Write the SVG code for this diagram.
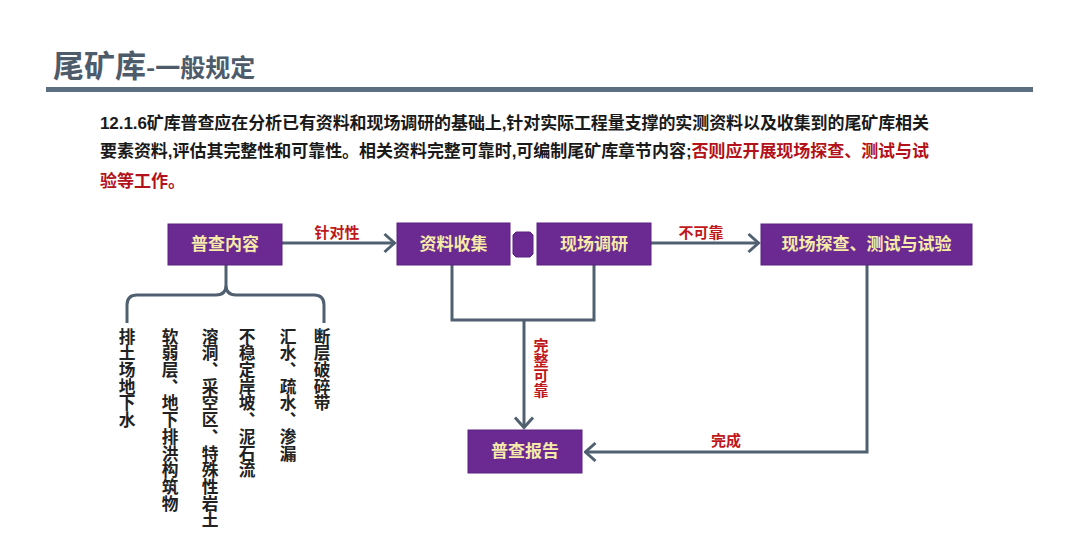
<svg xmlns="http://www.w3.org/2000/svg" width="1080" height="536" viewBox="0 0 1080 536">
<style>
.node{fill:#6a2a92;stroke:#5a2280;stroke-width:1}
.nt{font-family:"Noto Sans CJK SC","Liberation Sans",sans-serif;font-weight:bold;font-size:17px;fill:#f6eba8;text-anchor:middle}
.lbl{font-family:"Noto Sans CJK SC","Liberation Sans",sans-serif;font-weight:bold;font-size:15px;fill:#c0171b;text-anchor:middle}
.conn{fill:none;stroke:#506070;stroke-width:3}
.col{font-family:"Noto Sans CJK SC","Liberation Sans",sans-serif;font-weight:bold;font-size:16.7px;fill:#222;writing-mode:vertical-rl}
.body{font-family:"Liberation Sans","Noto Sans CJK SC",sans-serif;font-weight:bold;font-size:17px;fill:#1a1a1a}
.red{fill:#b3121a}
</style>
<defs>
<marker id="arr" markerUnits="userSpaceOnUse" viewBox="0 0 14 22" refX="12.5" refY="11" markerWidth="14" markerHeight="22" orient="auto">
<path d="M2,2 L12,11 L2,20" fill="none" stroke="#506070" stroke-width="3"/>
</marker>
</defs>
<rect width="1080" height="536" fill="#ffffff"/>
<g id="title">
<text x="53" y="77" font-family="Noto Sans CJK SC,Liberation Sans,sans-serif" font-weight="bold" fill="#4d5b6b"><tspan font-size="31px">尾矿库</tspan><tspan font-size="25px">-一般规定</tspan></text>
<rect x="46" y="87" width="987" height="5" fill="#5c6f80"/>
</g>
<g id="header">
<text class="body" x="100" y="129" textLength="829" lengthAdjust="spacing">12.1.6矿库普查应在分析已有资料和现场调研的基础上,针对实际工程量支撑的实测资料以及收集到的尾矿库相关</text>
<text class="body" x="100" y="157" textLength="829" lengthAdjust="spacing">要素资料,评估其完整性和可靠性。相关资料完整可靠时,可编制尾矿库章节内容;<tspan class="red">否则应开展现场探查、测试与试</tspan></text>
<text class="body red" x="100" y="187">验等工作。</text>
</g>
<g id="connectors">
<path class="conn" d="M282,243 H395" marker-end="url(#arr)"/>
<path class="conn" d="M651,243 H759" marker-end="url(#arr)"/>
<path class="conn" d="M452,265 V320 H594 V265"/>
<path class="conn" d="M524,320 V428" marker-end="url(#arr)"/>
<path class="conn" d="M867,265 V452 H585" marker-end="url(#arr)"/>
<path class="conn" d="M127,323 V305 Q127,295 137,295 H216 Q226,295 226,285 V265 M226,285 Q226,295 236,295 H314 Q324,295 324,305 V323"/>
<text class="lbl" x="337" y="238">针对性</text>
<text class="lbl" x="701" y="238">不可靠</text>
<text class="lbl" x="726" y="446">完成</text>
<text class="lbl" font-size="16px" x="541" y="338" style="writing-mode:vertical-rl;text-anchor:start">完整可靠</text>
</g>
<g id="n-content">
<rect class="node" x="168" y="224" width="114" height="41"/>
<text class="nt" x="225" y="250">普查内容</text>
</g>
<g id="n-collect">
<rect class="node" x="397" y="223" width="113" height="42"/>
<text class="nt" x="453.5" y="250">资料收集</text>
</g>
<g id="n-join">
<polygon class="node" points="516,232 530,232 533,235 533,254 530,257 516,257 513,254 513,235"/>
</g>
<g id="n-survey">
<rect class="node" x="537" y="223" width="114" height="42"/>
<text class="nt" x="594" y="250">现场调研</text>
</g>
<g id="n-explore">
<rect class="node" x="761" y="224" width="211" height="41"/>
<text class="nt" x="866.5" y="250">现场探查、测试与试验</text>
</g>
<g id="n-report">
<rect class="node" x="468" y="430" width="114" height="43"/>
<text class="nt" x="525" y="457">普查报告</text>
</g>
<g id="items">
<text class="col" x="127" y="328">排土场地下水</text>
<text class="col" x="170" y="328">软弱层、地下排洪构筑物</text>
<text class="col" x="210" y="328">溶洞、采空区、特殊性岩土</text>
<text class="col" x="247" y="328">不稳定岸坡、泥石流</text>
<text class="col" x="288" y="328">汇水、疏水、渗漏</text>
<text class="col" x="322" y="328">断层破碎带</text>
</g>
</svg>
